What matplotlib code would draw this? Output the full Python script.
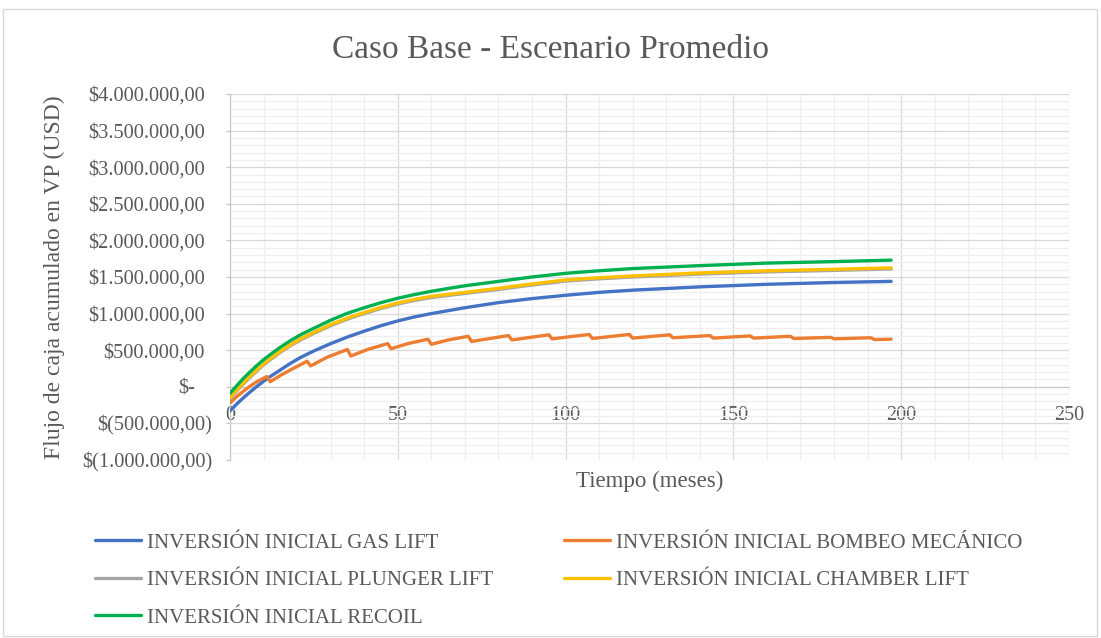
import matplotlib.pyplot as plt
from matplotlib.ticker import MultipleLocator
from matplotlib.transforms import ScaledTranslation
from matplotlib.patches import Rectangle

plt.rcParams['font.family'] = ['Liberation Serif', 'DejaVu Serif']

# valores (USD)
meses = [0, 2, 4, 6, 8, 10, 12, 15, 18, 21, 25, 30, 35, 40, 45, 50, 55, 60, 70, 80, 90, 100,
         110, 120, 140, 160, 180, 197]
gas_lift = [-330000, -235000, -150000, -70000, 5000, 75000, 140000, 230000, 320000, 400000,
            490000, 590000, 680000, 760000, 835000, 900000, 955000, 1000000, 1080000, 1150000,
            1205000, 1250000, 1290000, 1320000, 1365000, 1400000, 1425000, 1440000]
plunger_lift = [-165000, -60000, 40000, 130000, 215000, 300000, 370000, 470000, 560000, 640000,
                730000, 835000, 925000, 1000000, 1070000, 1130000, 1180000, 1220000, 1275000,
                1330000, 1390000, 1445000, 1475000, 1500000, 1540000, 1570000, 1590000, 1610000]
chamber_lift = [-150000, -45000, 55000, 145000, 230000, 315000, 385000, 485000, 575000, 655000,
                745000, 850000, 940000, 1015000, 1085000, 1145000, 1195000, 1235000, 1290000,
                1345000, 1405000, 1460000, 1490000, 1515000, 1555000, 1585000, 1605000, 1625000]
recoil = [-90000, 15000, 115000, 205000, 290000, 370000, 440000, 540000, 630000, 710000,
          800000, 910000, 1005000, 1080000, 1150000, 1210000, 1260000, 1305000, 1380000, 1440000,
          1500000, 1550000, 1585000, 1615000, 1655000, 1690000, 1710000, 1730000]

meses_bm = [0, 2, 4, 6, 8, 11, 12, 15, 18, 23, 24, 29, 35, 36, 41, 47, 48, 53, 59, 60, 65, 71,
            72, 83, 84, 95, 96, 107, 108, 119, 120, 131, 132, 143, 144, 155, 156, 167, 168,
            179, 180, 191, 192, 197]
bombeo_mecanico = [-220000, -135000, -60000, 10000, 70000, 140000, 70000, 155000, 230000, 350000,
                   285000, 405000, 510000, 420000, 510000, 590000, 520000, 590000, 650000, 580000,
                   640000, 690000, 620000, 700000, 640000, 710000, 655000, 715000, 660000, 715000,
                   665000, 710000, 670000, 700000, 665000, 695000, 665000, 690000, 660000, 675000,
                   655000, 670000, 645000, 650000]

series = [
    ("INVERSIÓN INICIAL GAS LIFT", meses, gas_lift, "#4472C4"),
    ("INVERSIÓN INICIAL BOMBEO MECÁNICO", meses_bm, bombeo_mecanico, "#ED7D31"),
    ("INVERSIÓN INICIAL PLUNGER LIFT", meses, plunger_lift, "#A5A5A5"),
    ("INVERSIÓN INICIAL CHAMBER LIFT", meses, chamber_lift, "#FFC000"),
    ("INVERSIÓN INICIAL RECOIL", meses, recoil, "#00B050"),
]

yticks = list(range(-1000000, 4000001, 500000))
xticks = [0, 50, 100, 150, 200, 250]


def fmt_usd(v):
    if v == 0:
        return "$-"
    s = f"{abs(v):,.2f}".replace(",", "X").replace(".", ",").replace("X", ".")
    if v < 0:
        return f"$({s})"
    return f"${s}"


gris = "#595959"
fig = plt.figure(figsize=(11.01, 6.38), dpi=100)
ax = fig.add_axes([0.2089, 0.279, 0.762, 0.5737])

lineas = []
for name, x, y, c in series:
    l, = ax.plot(x, y, color=c, lw=2.4, label=name, solid_capstyle='round',
                 solid_joinstyle='round', zorder=3)
    lineas.append(l)

ax.set_xlim(0, 250)
ax.set_ylim(-1000000, 4000000)
ax.set_xticks(xticks, labels=[str(t) for t in xticks])
ax.set_yticks(yticks, labels=[fmt_usd(v) for v in yticks])
ax.xaxis.set_minor_locator(MultipleLocator(10))
ax.yaxis.set_minor_locator(MultipleLocator(100000))
ax.grid(which='major', color='#d9d9d9', lw=0.9, zorder=0)
ax.grid(which='minor', color='#efefef', lw=0.9, zorder=0)
ax.set_axisbelow(True)

for s in ['top', 'right']:
    ax.spines[s].set_visible(False)
ax.spines['bottom'].set_position(('data', 0))
ax.spines['bottom'].set_color('#c6c6c6')
ax.spines['left'].set_color('#c6c6c6')
ax.tick_params(axis='x', which='both', length=0, pad=14, labelsize=14.5, labelcolor=gris)
ax.tick_params(axis='y', which='major', length=3, width=0.9, color='#c6c6c6', pad=10,
               labelsize=14.7, labelcolor=gris)
ax.tick_params(axis='y', which='minor', length=0)

ax.set_xlabel("Tiempo (meses)", fontsize=16.5, color=gris)
ax.xaxis.set_label_coords(0.5, -0.03)
ax.set_ylabel("Flujo de caja acumulado en VP (USD)", fontsize=17, color=gris)
ax.yaxis.set_label_coords(-0.197, 0.5)

fig.text(0.5, 1 - 50 / 638, "Caso Base - Escenario Promedio", ha='center', va='center',
         fontsize=24, color=gris)

orden = [0, 2, 4, 1, 3]
fig.legend([lineas[i] for i in orden], [series[i][0] for i in orden],
           loc='upper left', bbox_to_anchor=(95 / 1101, 1 - 533 / 638), ncol=2, frameon=False,
           fontsize=15, handlelength=2.2, handletextpad=0.3, columnspacing=3.4,
           labelspacing=0.86, borderpad=0, borderaxespad=0, labelcolor=gris)

fig.patches.append(Rectangle((3 / 1101, 2 / 638), 1094 / 1101, 1 - 11 / 638, transform=fig.transFigure,
                             fill=False, edgecolor='#d9d9d9', lw=1))

# desplazar etiquetas como formato contable
for lbl, v in zip(ax.get_yticklabels(), yticks):
    if v > 0:
        dx = -5
    elif v == 0:
        dx = -12
    else:
        dx = 0
    lbl.set_transform(lbl.get_transform() + ScaledTranslation(dx / 72, 0, fig.dpi_scale_trans))

fig.savefig("out.png", dpi=100)
